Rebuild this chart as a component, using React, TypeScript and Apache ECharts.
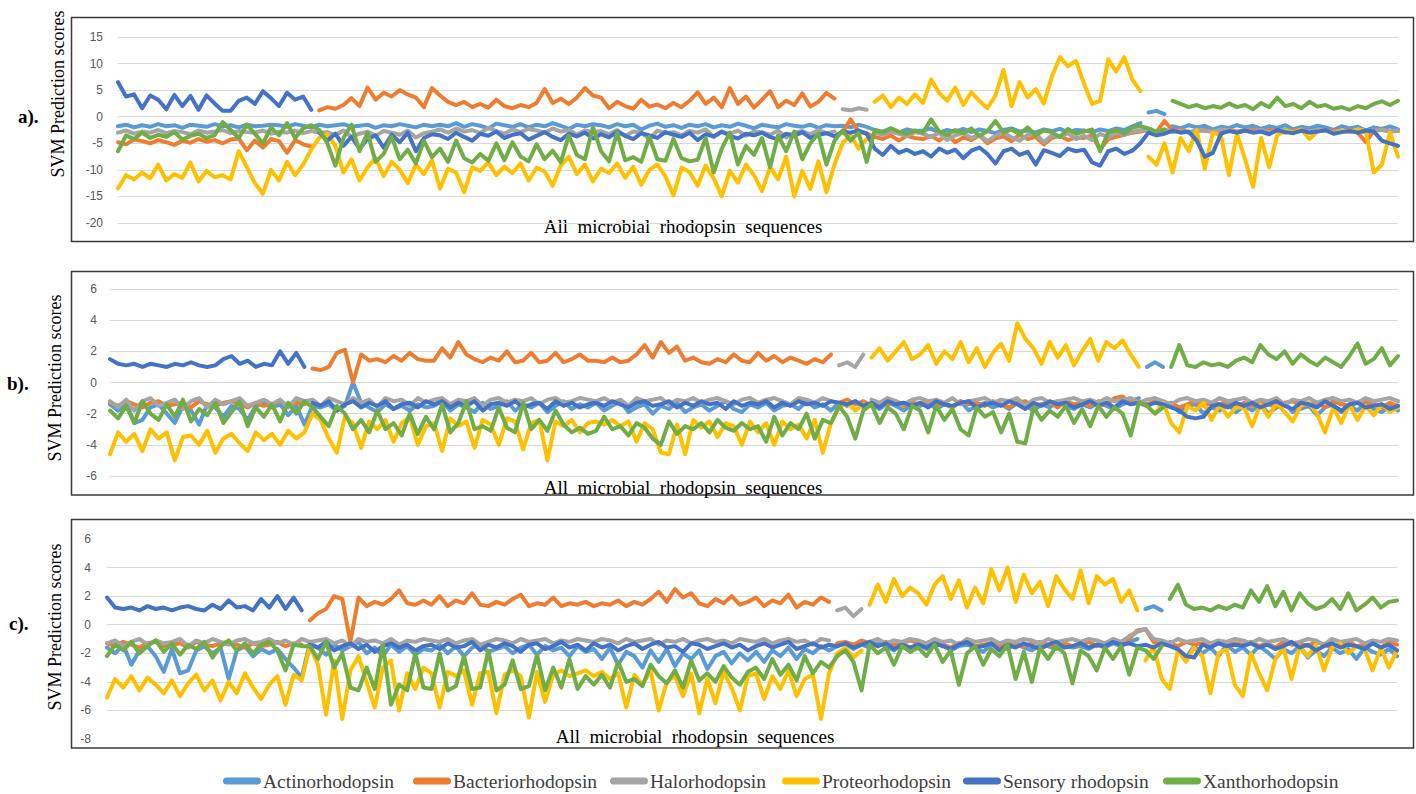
import React, { useEffect, useRef } from "react";
import * as echarts from "echarts";

const NAMES = ["Actinorhodopsin", "Bacteriorhodopsin", "Halorhodopsin", "Proteorhodopsin", "Sensory rhodopsin", "Xanthorhodopsin"];
const COLORS = ["#5B9BD5", "#ED7D31", "#A5A5A5", "#FFC000", "#4472C4", "#70AD47"];
// index range (inclusive) of the sequences that belong to each class (positive set)
const POS_SEGMENTS: [number, number][] = [[128, 130], [25, 89], [90, 93], [94, 127], [0, 24], [131, 159]];
const SEQ_COUNT = 160;
const SEQ = Array.from({ length: SEQ_COUNT }, (_, i) => String(i + 1));

const PANEL_LABELS = ["a).", "b).", "c)."];
const Y_TITLE = "SVM Prediction scores";
const X_TITLE = "All  microbial  rhodopsin  sequences";

// ---------- panel a ----------
const A_ACT = [
  -1.8, -1.5, -2.0, -1.6, -1.9, -1.4, -1.8, -1.6, -2.1, -1.5, -1.7, -1.9, -1.4, -1.8, -1.6, -2.0, -1.5, -1.8, -1.7, -1.5,
  -1.6, -1.9, -1.4, -1.7, -2.0, -1.5, -1.8, -1.6, -1.4, -1.9, -1.7, -1.5, -2.1, -1.6, -1.8, -1.4, -1.7, -2.0, -1.5, -1.8,
  -1.5, -1.8, -1.2, -1.9, -1.4, -1.7, -2.2, -1.3, -1.6, -1.9, -1.4, -2.0, -1.5, -1.8, -1.2, -1.7, -2.3, -1.5, -1.8, -1.4,
  -1.6, -2.0, -1.4, -1.8, -1.5, -2.4, -1.7, -1.3, -1.9, -1.6, -2.1, -1.5, -1.8, -1.4, -2.0, -1.6, -1.9, -1.3, -1.7, -2.2,
  -1.5, -1.8, -2.0, -1.4, -1.7, -1.9, -1.5, -2.1, -1.6, -1.8, -1.7, -2.0, -1.5, -1.9, -2.5, -2.8, -2.2, -3.0, -2.4, -2.7,
  -2.6, -2.2, -3.0, -2.5, -2.8, -2.3, -2.9, -2.4, -2.7, -3.1, -2.5, -2.2, -2.8, -2.6, -3.0, -2.4, -2.7, -2.3, -2.9, -2.5,
  -2.6, -2.9, -2.4, -2.7, -2.2, -2.5, -1.8, -1.2, 0.8, 1.1, 0.5, -1.8, -2.2, -1.6, -2.0, -1.7, -2.4, -1.9, -2.1, -1.6,
  -2.0, -1.7, -2.3, -1.8, -2.1, -1.6, -2.4, -1.9, -2.2, -1.7, -2.0, -2.5, -1.8, -2.2, -1.9, -2.6, -2.0, -2.3, -1.8, -2.4,
];
const A_BAC = [
  -4.8, -5.2, -4.3, -4.6, -5.0, -4.4, -4.8, -5.3, -4.5, -4.9, -4.2, -4.7, -4.4, -5.0, -4.3, -4.1, -6.3, -4.5, -5.8, -4.2,
  -4.6, -6.8, -4.4, -5.2, -5.6, 1.2, 1.8, 1.5, 2.2, 3.5, 2.0, 5.5, 3.2, 4.5, 3.8, 5.0, 4.2, 3.6, 1.8, 5.4,
  4.0, 2.8, 2.2, 2.8, 1.8, 2.4, 1.7, 3.2, 2.0, 1.6, 2.2, 1.8, 2.6, 5.2, 2.6, 3.4, 2.4, 3.6, 5.4, 4.0,
  3.6, 1.6, 2.8, 2.0, 1.5, 3.2, 1.9, 2.3, 1.6, 2.6, 1.8, 3.0, 4.6, 2.4, 3.6, 1.8, 5.4, 2.4, 3.8, 1.7,
  3.2, 4.8, 1.8, 3.0, 2.2, 4.4, 1.9, 2.8, 4.5, 3.4, -3.0, -0.5, -2.8, -3.2, -3.8, -4.2, -3.5, -4.5, -3.6, -4.0,
  -4.2, -3.6, -4.5, -3.3, -4.8, -3.9, -4.4, -3.5, -5.0, -4.1, -3.7, -4.6, -3.4, -4.2, -3.8, -5.2, -4.0, -3.6, -4.4, -3.9,
  -4.0, -3.5, -6.2, -4.2, -3.8, -3.4, -3.0, -2.8, -2.5, -2.8, -0.8, -2.6, -2.4, -3.0, -2.7, -2.5, -2.9, -2.6, -2.4, -2.8,
  -2.6, -2.4, -2.8, -2.5, -2.7, -3.0, -2.6, -2.4, -2.9, -2.5, -2.7, -2.6, -2.8, -2.5, -3.0, -4.8, -2.6, -2.4, -2.8, -2.7,
];
const A_HAL = [
  -3.0, -2.6, -3.2, -2.8, -3.0, -2.5, -3.1, -2.7, -2.9, -3.3, -2.6, -3.0, -2.8, -2.5, -3.1, -2.7, -2.9, -3.0, -2.6, -3.2,
  -2.8, -3.0, -2.6, -3.1, -2.7, -3.0, -2.9, -3.5, -2.6, -3.8, -3.2, -2.8, -3.6, -2.7, -3.0, -3.4, -2.6, -3.9, -3.1, -2.8,
  -2.4, -3.0, -2.2, -2.8, -2.5, -3.1, -2.1, -2.7, -3.2, -2.4, -2.9, -2.3, -2.6, -3.0, -2.2, -2.8, -2.5, -3.4, -2.6, -2.9,
  -2.7, -3.3, -2.5, -3.6, -2.8, -3.0, -4.2, -2.6, -3.1, -2.9, -3.5, -2.7, -3.0, -2.4, -3.8, -2.9, -3.2, -2.6, -3.6, -2.8,
  -2.9, -3.4, -2.6, -3.9, -3.0, -2.7, -3.3, -2.5, -3.1, -2.8, 1.4, 1.2, 1.6, 1.3, -3.0, -3.4, -2.8, -3.2, -3.6, -2.9,
  -3.2, -3.8, -3.0, -4.4, -3.5, -3.1, -4.0, -3.3, -4.6, -3.6, -3.0, -3.9, -4.5, -3.4, -3.2, -4.8, -3.5, -3.8, -3.1, -4.2,
  -3.6, -4.4, -3.2, -3.9, -3.0, -3.4, -2.8, -2.6, -2.5, -2.8, -2.4, -2.9, -2.6, -3.0, -2.5, -2.7, -2.8, -2.4, -2.6, -3.0,
  -2.6, -2.8, -2.5, -2.9, -2.7, -2.4, -3.0, -2.6, -2.8, -2.5, -2.7, -2.9, -2.6, -2.8, -2.4, -3.0, -2.7, -2.5, -2.8, -2.6,
];
const A_PRO = [
  -13.5, -11.0, -11.8, -10.5, -11.6, -9.0, -12.0, -10.8, -11.5, -8.6, -12.2, -10.2, -11.4, -11.0, -11.8, -6.5, -9.5, -12.5, -14.5, -10.0,
  -12.0, -8.5, -11.0, -9.0, -6.2, -4.0, -3.2, -5.5, -10.5, -8.0, -12.0, -9.5, -7.8, -11.2, -8.5, -10.0, -12.5, -9.0, -10.8, -8.2,
  -13.5, -9.8, -10.5, -14.2, -9.5, -10.2, -8.6, -11.0, -9.4, -10.6, -8.8, -12.0, -9.6, -10.3, -13.0, -9.2, -7.5, -10.8, -9.0, -12.2,
  -9.8, -10.6, -8.8, -11.5, -9.4, -12.8, -10.0, -9.0, -11.2, -14.8, -9.6, -10.4, -13.0, -9.2, -11.6, -15.0, -10.2, -12.4, -9.0, -11.0,
  -14.0, -9.5, -11.8, -7.5, -15.0, -10.2, -13.6, -8.4, -14.2, -9.0, -5.0, -3.5, -6.0, -4.2, 2.8, 4.0, 1.8, 3.6, 2.4, 4.2,
  2.6, 7.0, 4.5, 3.0, 5.5, 2.2, 4.6, 3.0, 1.6, 4.0, 8.8, 2.0, 6.5, 3.6, 5.2, 2.5, 7.5, 11.2, 9.5, 10.5,
  6.2, 2.4, 3.0, 10.8, 8.5, 11.2, 7.0, 4.8, -7.5, -9.0, -5.0, -10.5, -4.0, -6.5, -2.5, -9.8, -3.0, -3.5, -11.0, -3.2,
  -8.0, -13.2, -4.0, -9.5, -3.5, -2.6, -3.0, -2.4, -4.2, -2.8, -2.5, -3.2, -2.6, -2.9, -2.4, -2.7, -10.5, -9.0, -3.0, -7.5,
];
const A_SEN = [
  6.5, 3.8, 4.2, 1.6, 4.0, 3.2, 1.4, 4.1, 2.0, 3.9, 1.3, 4.0, 2.5, 1.1, 1.1, 3.0, 3.6, 2.4, 4.8, 3.5,
  2.0, 4.5, 3.2, 3.8, 1.3, -3.0, -4.5, -3.2, -5.5, -3.8, -6.0, -4.2, -3.5, -5.8, -3.4, -4.8, -3.0, -6.5, -4.0, -3.3,
  -3.5, -4.2, -3.0, -3.8, -4.5, -3.2, -3.6, -2.8, -4.0, -3.4, -3.1, -4.3, -3.6, -2.9, -3.8, -4.4, -3.2, -3.7, -3.0, -4.1,
  -3.3, -3.9, -2.8, -3.6, -4.2, -3.1, -3.5, -4.0, -2.9, -3.4, -3.8, -3.0, -4.4, -3.3, -3.7, -2.8, -3.6, -4.1, -3.2, -3.5,
  -3.0, -3.8, -4.3, -3.2, -3.6, -2.9, -4.0, -3.4, -3.1, -3.7, -2.8, -3.0, -2.6, -3.2, -6.0, -7.2, -5.5, -6.8, -6.2, -7.0,
  -6.5, -7.5, -6.0, -6.8, -6.2, -7.8, -6.4, -5.8, -7.0, -8.8, -6.5, -6.0, -7.2, -6.6, -9.0, -6.3, -6.8, -7.4, -6.0, -6.5,
  -6.2, -8.6, -9.2, -6.5, -6.0, -7.0, -6.4, -5.0, -3.0, -3.5, -3.2, -2.6, -3.0, -2.8, -4.5, -7.5, -6.8, -3.2, -2.7, -3.0,
  -2.6, -3.0, -2.8, -3.3, -2.5, -2.9, -3.1, -2.6, -3.0, -2.8, -2.5, -3.2, -2.9, -2.7, -3.0, -2.6, -2.8, -4.5, -5.0, -5.5,
];
const A_XAN = [
  -6.5, -3.5, -4.2, -3.0, -4.0, -3.4, -3.8, -2.9, -4.3, -3.6, -3.2, -4.0, -3.5, -1.0, -2.5, -4.0, -1.5, -3.2, -5.0, -2.0,
  -3.5, -1.2, -4.0, -2.2, -1.6, -2.5, -5.0, -9.2, -4.0, -1.5, -6.5, -3.0, -8.5, -7.0, -3.8, -8.0, -6.2, -8.8, -4.5, -7.6,
  -6.0, -8.5, -4.5, -7.8, -8.6, -7.0, -8.3, -5.0, -8.2, -4.8, -7.5, -8.4, -5.2, -8.0, -6.4, -8.6, -3.5, -7.2, -8.0, -2.0,
  -6.5, -8.4, -3.0, -8.2, -7.6, -8.5, -3.8, -8.0, -8.3, -4.2, -7.8, -8.4, -8.1, -4.0, -10.5, -6.0, -3.0, -9.0, -5.5, -7.2,
  -4.0, -9.5, -3.5, -6.5, -2.8, -8.0, -5.0, -3.2, -9.0, -4.5, -2.6, -4.5, -3.0, -8.5, -2.5, -3.0, -2.2, -2.8, -3.2, -2.6,
  -3.0, -0.5, -2.8, -3.4, -2.5, -3.1, -2.2, -3.6, -2.7, -0.8, -3.0, -2.4, -3.3, -2.0, -3.5, -2.6, -2.9, -3.8, -2.3, -3.2,
  -2.8, -2.4, -6.5, -3.0, -2.5, -3.2, -2.0, -1.8, -2.2, -2.8, -2.4, 3.0, 2.4, 1.8, 2.2, 1.6, 2.0, 1.7, 2.5, 1.8,
  2.2, 1.4, 2.6, 1.8, 3.6, 2.0, 2.4, 1.6, 2.8, 1.9, 2.2, 1.5, 1.8, 1.3, 2.0, 1.6, 2.4, 2.9, 2.2, 3.0,
];

// ---------- panel b ----------
const B_ACT = [
  -1.4, -1.8, -1.3, -2.6, -2.4, -1.6, -1.4, -2.0, -2.6, -1.5, -1.8, -2.7, -1.4, -1.6, -2.2, -1.5, -1.7, -2.4, -1.5, -1.3,
  -1.6, -1.4, -2.1, -1.5, -2.7, -1.5, -1.6, -1.4, -1.8, -1.5, 0.0, -1.3, -1.6, -1.9, -1.4, -1.7, -1.5, -1.8, -1.4, -1.6,
  -1.5, -1.2, -1.8, -1.4, -1.6, -1.9, -1.3, -1.7, -1.5, -1.2, -1.8, -1.4, -1.6, -1.3, -1.9, -1.5, -1.2, -1.7, -1.4, -1.6,
  -1.3, -1.8, -1.5, -1.2, -1.9, -1.6, -1.4, -2.0, -1.5, -1.7, -1.3, -1.9, -1.6, -1.4, -1.8, -1.5, -1.2, -1.7, -1.9, -1.4,
  -1.6, -1.3, -1.8, -1.5, -1.4, -1.7, -1.2, -1.6, -1.4, -1.8, -1.3, -1.5, -1.2, -1.6, -1.4, -1.7, -1.3, -1.5, -1.8, -1.4,
  -1.5, -1.3, -1.7, -1.4, -1.6, -1.2, -1.8, -1.5, -1.3, -1.6, -1.4, -1.7, -1.3, -1.5, -1.8, -1.4, -1.6, -1.2, -1.5, -1.7,
  -1.4, -1.6, -1.3, -1.5, -1.7, -1.4, -1.2, -1.0, 1.0, 1.3, 1.0, -1.3, -1.9, -1.5, -1.4, -2.0, -1.6, -1.8, -1.4, -1.9,
  -1.5, -1.8, -1.4, -2.0, -1.6, -1.3, -1.9, -1.7, -1.5, -2.1, -1.6, -1.4, -1.9, -1.5, -1.8, -1.3, -1.7, -1.9, -1.5, -1.8,
];
const B_BAC = [
  -1.3, -1.5, -1.2, -1.4, -1.6, -1.3, -1.2, -1.5, -1.4, -1.3, -1.6, -1.2, -1.4, -1.5, -1.3, -1.2, -1.4, -1.6, -1.3, -1.5,
  -1.4, -1.2, -1.5, -1.3, -1.4, 0.9, 0.8, 1.0, 1.9, 2.1, 0.0, 1.8, 1.4, 1.5, 1.3, 1.7, 1.4, 1.9, 1.5, 1.4,
  1.4, 2.2, 1.6, 2.6, 1.8, 1.5, 1.3, 1.6, 1.4, 2.0, 1.3, 1.4, 1.9, 1.3, 1.4, 1.9, 1.3, 1.5, 1.8, 1.4,
  1.4, 1.3, 1.6, 1.3, 1.4, 1.8, 2.4, 1.6, 2.6, 1.9, 2.3, 1.4, 1.6, 1.3, 1.2, 1.5, 1.3, 1.8, 1.4, 1.3,
  1.9, 1.4, 1.7, 1.3, 1.6, 1.4, 1.2, 1.5, 1.3, 1.8, -1.3, -1.1, -1.4, -1.2, -1.5, -1.3, -1.4, -1.2, -1.5, -1.3,
  -1.4, -1.2, -1.5, -1.3, -1.6, -1.2, -1.4, -1.3, -1.5, -1.2, -1.4, -1.6, -1.3, -1.2, -1.5, -1.4, -1.3, -1.6, -1.2, -1.4,
  -1.3, -1.5, -1.2, -1.4, -1.0, -0.9, -1.3, -1.2, -1.4, -1.2, -1.5, -1.3, -1.6, -1.4, -1.2, -1.5, -1.3, -1.4, -1.2, -1.6,
  -1.3, -1.5, -1.2, -1.4, -1.6, -1.3, -1.2, -1.5, -1.4, -1.3, -1.6, -1.2, -1.4, -1.5, -1.3, -1.2, -1.4, -1.6, -1.3, -1.5,
];
const B_HAL = [
  -1.2, -1.6, -1.1, -1.8, -1.2, -1.0, -1.5, -1.3, -1.1, -1.7, -1.2, -1.0, -1.6, -1.1, -1.4, -1.2, -1.0, -1.5, -1.3, -1.1,
  -1.4, -1.1, -1.6, -1.0, -1.2, -1.1, -1.5, -1.0, -1.2, -1.4, -1.0, -1.3, -1.1, -1.6, -1.0, -1.2, -1.1, -1.5, -1.0, -1.3,
  -1.1, -1.0, -1.4, -1.1, -1.2, -1.0, -1.5, -1.1, -1.0, -1.3, -1.1, -1.2, -1.0, -1.4, -1.1, -1.0, -1.3, -1.2, -1.0, -1.1,
  -1.2, -1.0, -1.3, -1.1, -1.5, -1.0, -1.2, -1.1, -1.0, -1.4, -1.1, -1.2, -1.0, -1.3, -1.1, -1.0, -1.2, -1.4, -1.1, -1.0,
  -1.3, -1.1, -1.0, -1.2, -1.4, -1.0, -1.1, -1.3, -1.0, -1.2, 1.1, 1.3, 1.0, 1.8, -1.1, -1.3, -1.0, -1.2, -1.4, -1.1,
  -1.0, -1.2, -1.1, -1.3, -1.0, -1.4, -1.2, -1.1, -1.0, -1.3, -1.1, -1.2, -1.0, -1.5, -1.1, -1.0, -1.3, -1.2, -1.1, -1.0,
  -1.2, -1.1, -1.3, -1.0, -1.2, -1.1, -1.0, -1.3, -1.1, -1.0, -1.2, -1.4, -1.1, -1.0, -1.2, -1.1, -1.3, -1.0, -1.2, -1.1,
  -1.0, -1.3, -1.1, -1.2, -1.0, -1.4, -1.1, -1.2, -1.0, -1.3, -1.1, -1.0, -1.2, -1.1, -1.3, -1.0, -1.2, -1.1, -1.0, -1.2,
];
const B_PRO = [
  -4.6, -3.2, -3.8, -3.3, -4.4, -3.0, -3.6, -3.2, -5.0, -3.5, -3.4, -4.0, -3.1, -4.5, -3.6, -3.3, -3.9, -4.4, -3.2, -3.7,
  -3.3, -4.0, -3.1, -3.6, -3.2, -2.0, -2.4, -3.6, -4.5, -2.2, -2.6, -4.2, -2.5, -3.0, -2.4, -3.8, -2.6, -2.2, -4.0, -2.8,
  -2.6, -4.4, -2.3, -2.8, -2.5, -4.2, -2.4, -2.7, -4.0, -2.3, -2.5, -4.3, -2.6, -2.4, -5.0, -2.5, -2.8, -2.4, -3.2, -2.6,
  -2.5, -2.7, -2.4, -2.8, -2.5, -3.8, -2.6, -3.0, -4.5, -4.6, -2.7, -4.6, -2.4, -2.9, -2.5, -3.5, -2.6, -2.8, -4.0, -2.5,
  -3.2, -2.6, -4.0, -2.5, -3.0, -2.7, -3.6, -2.4, -4.5, -2.6, -1.6, -1.3, -1.8, -1.4, 1.6, 2.2, 1.4, 2.0, 2.6, 1.5,
  1.8, 2.4, 1.2, 2.0, 1.5, 2.6, 1.3, 2.2, 1.0, 1.9, 2.5, 1.4, 3.8, 2.8, 2.2, 1.2, 2.6, 1.6, 2.4, 1.1,
  2.0, 2.8, 1.4, 2.6, 2.2, 2.7, 1.8, 1.0, -1.5, -2.0, -1.3, -2.6, -3.2, -1.5, -1.8, -1.3, -2.4, -1.4, -2.2, -1.6,
  -1.6, -2.8, -1.4, -2.2, -1.3, -1.9, -2.5, -1.5, -1.3, -2.0, -3.2, -1.6, -2.6, -1.4, -2.4, -1.5, -2.1, -1.4, -1.9, -1.6,
];
const B_SEN = [
  1.5, 1.2, 1.1, 1.2, 1.0, 1.2, 1.1, 1.0, 1.2, 1.1, 1.3, 1.1, 1.0, 1.1, 1.5, 1.7, 1.2, 1.4, 1.0, 1.2,
  1.1, 2.0, 1.2, 1.9, 1.0, -1.3, -1.5, -1.2, -1.8, -1.4, -1.2, -1.6, -1.3, -1.5, -1.2, -1.7, -1.4, -1.3, -1.6, -1.2,
  -1.4, -1.2, -1.6, -1.3, -1.5, -1.2, -1.8, -1.4, -1.3, -1.5, -1.2, -1.6, -1.4, -1.3, -1.7, -1.2, -1.5, -1.3, -1.6, -1.4,
  -1.3, -1.5, -1.2, -1.4, -1.6, -1.3, -1.2, -1.5, -1.4, -1.2, -1.6, -1.3, -1.5, -1.2, -1.4, -1.3, -1.7, -1.2, -1.5, -1.3,
  -1.4, -1.2, -1.6, -1.3, -1.5, -1.2, -1.4, -1.3, -1.5, -1.2, -1.3, -1.4, -1.2, -1.5, -1.3, -1.6, -1.2, -1.4, -1.3, -1.5,
  -1.3, -1.6, -1.2, -1.4, -1.5, -1.3, -1.2, -1.6, -1.4, -1.3, -1.5, -1.2, -1.4, -1.7, -1.3, -1.5, -1.2, -1.4, -1.3, -1.6,
  -1.4, -1.2, -1.5, -1.3, -1.6, -1.2, -1.4, -1.3, -1.5, -1.3, -1.4, -1.6, -1.8, -2.2, -2.3, -2.2, -1.5, -1.4, -1.6, -1.3,
  -1.5, -1.3, -1.6, -1.4, -1.2, -1.5, -1.7, -1.3, -1.4, -1.6, -1.2, -1.5, -1.8, -1.4, -1.3, -1.6, -1.5, -1.4, -1.7, -1.5,
];
const B_XAN = [
  -1.8, -2.3, -1.5, -2.6, -1.2, -2.0, -2.4, -1.4, -2.2, -1.1, -2.5, -1.7, -2.1, -1.3, -2.6, -1.9, -1.2, -2.8, -1.6, -2.2,
  -1.4, -2.5, -1.3, -2.0, -1.2, -1.6, -2.2, -2.8, -1.5, -2.0, -3.0, -2.4, -3.2, -1.8, -3.0, -2.6, -3.4, -2.0, -3.3, -2.2,
  -3.0, -1.4, -3.2, -2.6, -1.2, -3.0, -2.8, -3.1, -1.6, -2.9, -3.2, -1.3, -3.0, -2.4, -3.1, -1.8, -2.7, -3.2, -2.9, -3.3,
  -3.1, -2.2, -3.0, -2.8, -3.4, -2.6, -2.9, -3.6, -4.0, -2.5, -3.3, -2.8, -3.0, -2.6, -3.2, -2.4, -2.9, -3.1, -2.6, -3.0,
  -2.8, -3.8, -2.2, -3.4, -2.6, -3.0, -2.0, -3.6, -2.4, -2.6, -1.5, -2.2, -3.6, -1.8, -1.4, -2.6, -1.6, -2.0, -3.0, -1.5,
  -1.8, -3.2, -1.5, -2.4, -1.7, -3.0, -3.4, -1.6, -2.2, -1.9, -3.2, -2.0, -3.8, -3.9, -1.6, -2.4, -1.8, -2.2, -1.5, -2.6,
  -1.7, -2.8, -1.5, -2.2, -1.6, -2.0, -3.4, -1.3, -1.5, -2.0, -1.6, 1.0, 2.4, 1.1, 1.0, 1.3, 1.1, 1.2, 1.0, 1.4,
  1.6, 1.3, 2.4, 1.8, 1.5, 2.0, 1.2, 1.8, 1.4, 1.1, 1.6, 1.3, 1.0, 1.7, 2.5, 1.2, 1.5, 2.2, 1.1, 1.7,
];

// ---------- panel c ----------
const C_ACT = [
  -1.6, -2.0, -1.4, -2.8, -1.8, -1.5, -2.2, -3.3, -1.7, -3.4, -3.2, -1.8, -1.5, -2.0, -1.6, -3.8, -1.8, -1.5, -2.2, -1.7,
  -2.0, -1.7, -2.4, -3.0, -3.7, -1.3, -1.6, -2.1, -1.4, -1.8, -1.5, -1.2, -2.0, -1.6, -2.2, -1.4, -1.9, -1.5, -2.1, -1.7,
  -1.8, -1.4, -2.0, -1.5, -2.2, -1.6, -1.4, -1.9, -1.7, -1.5, -2.0, -1.6, -1.4, -2.1, -1.5, -1.8, -1.6, -2.2, -1.5, -1.9,
  -1.7, -2.4, -1.6, -2.8, -1.9, -2.2, -3.0, -1.8, -2.6, -1.7, -2.9, -2.0, -2.4, -1.8, -3.1, -2.2, -1.9, -2.7, -2.0, -2.5,
  -1.9, -2.6, -1.8, -2.2, -1.6, -2.4, -1.7, -2.0, -1.5, -1.8, -1.5, -1.3, -1.7, -1.4, -1.6, -1.3, -1.5, -1.8, -1.4, -1.6,
  -1.4, -1.7, -1.5, -1.3, -1.8, -1.5, -1.4, -1.6, -1.9, -1.4, -1.5, -1.7, -1.3, -1.6, -1.8, -1.4, -1.5, -1.7, -1.4, -1.6,
  -1.5, -1.7, -1.4, -1.6, -1.3, -1.5, -1.2, -1.0, 1.1, 1.3, 1.0, -1.2, -1.8, -2.3, -1.5, -2.0, -1.6, -2.2, -1.4, -1.9,
  -1.6, -2.1, -1.5, -1.9, -2.4, -1.7, -2.0, -1.5, -2.3, -1.8, -2.2, -1.6, -2.0, -1.7, -2.4, -1.6, -1.9, -2.1, -1.7, -2.2,
];
const C_BAC = [
  -1.3, -1.5, -1.2, -1.4, -1.6, -1.3, -1.2, -1.5, -1.4, -1.3, -1.6, -1.2, -1.4, -1.5, -1.3, -1.2, -1.4, -1.6, -1.3, -1.5,
  -1.4, -1.2, -1.5, -1.3, -1.4, 0.3, 0.8, 1.1, 2.0, 1.8, -1.2, 1.9, 1.3, 1.6, 1.4, 1.8, 2.4, 1.5, 1.4, 1.7,
  1.4, 2.0, 1.3, 1.7, 1.5, 2.2, 1.4, 1.3, 1.6, 1.4, 1.8, 2.1, 1.3, 1.5, 1.4, 1.9, 1.3, 1.5, 1.4, 1.6,
  1.3, 1.5, 1.4, 1.7, 1.3, 1.6, 1.4, 1.8, 2.3, 1.6, 2.5, 1.9, 2.2, 1.5, 1.3, 1.8, 1.5, 2.0, 1.4, 1.6,
  1.9, 1.3, 1.7, 1.5, 2.1, 1.2, 1.6, 1.4, 1.9, 1.6, -1.3, -1.2, -1.4, -1.1, -1.3, -1.5, -1.2, -1.4, -1.3, -1.1,
  -1.3, -1.5, -1.2, -1.4, -1.6, -1.3, -1.2, -1.5, -1.4, -1.3, -1.6, -1.2, -1.4, -1.5, -1.3, -1.2, -1.4, -1.6, -1.3, -1.5,
  -1.4, -1.2, -1.5, -1.3, -1.1, -1.3, -1.0, -0.4, -0.3, -1.2, -1.4, -1.3, -1.5, -1.2, -1.4, -1.3, -1.6, -1.2, -1.4, -1.3,
  -1.4, -1.2, -1.5, -1.3, -1.6, -1.2, -1.4, -1.3, -1.5, -1.2, -1.4, -1.6, -1.3, -1.2, -1.5, -1.4, -1.3, -1.6, -1.2, -1.4,
];
const C_HAL = [
  -1.3, -1.1, -1.5, -1.2, -1.0, -1.4, -1.1, -1.3, -1.2, -1.0, -1.5, -1.1, -1.3, -1.0, -1.2, -1.4, -1.1, -1.0, -1.3, -1.2,
  -1.0, -1.3, -1.1, -1.4, -1.0, -1.2, -1.1, -1.0, -1.3, -1.1, -1.5, -1.0, -1.2, -1.1, -1.3, -1.0, -1.4, -1.1, -1.2, -1.0,
  -1.1, -1.2, -1.0, -1.3, -1.1, -1.0, -1.4, -1.2, -1.0, -1.1, -1.3, -1.0, -1.2, -1.1, -1.0, -1.3, -1.1, -1.2, -1.0, -1.1,
  -1.2, -1.0, -1.1, -1.3, -1.0, -1.2, -1.1, -1.0, -1.4, -1.1, -1.2, -1.0, -1.3, -1.1, -1.0, -1.2, -1.1, -1.3, -1.0, -1.1,
  -1.2, -1.0, -1.3, -1.1, -1.0, -1.2, -1.1, -1.4, -1.0, -1.1, 1.0, 1.2, 0.6, 1.1, -1.2, -1.0, -1.3, -1.1, -1.2, -1.0,
  -1.1, -1.3, -1.0, -1.2, -1.1, -1.4, -1.0, -1.2, -1.1, -1.0, -1.3, -1.1, -1.2, -1.0, -1.1, -1.3, -1.0, -1.2, -1.1, -1.0,
  -1.2, -1.0, -1.1, -1.3, -1.0, -1.2, -0.8, -0.5, -0.3, -1.0, -1.1, -1.3, -1.0, -1.2, -1.1, -1.0, -1.3, -1.1, -1.2, -1.0,
  -1.1, -1.3, -1.0, -1.2, -1.1, -1.0, -1.3, -1.2, -1.0, -1.1, -1.4, -1.0, -1.2, -1.1, -1.0, -1.3, -1.1, -1.2, -1.0, -1.1,
];
const C_PRO = [
  -5.1, -3.8, -4.4, -3.6, -4.6, -3.7, -4.2, -4.8, -3.9, -5.0, -4.1, -3.5, -4.6, -3.9, -5.3, -4.0, -4.8, -3.4, -4.4, -5.2,
  -4.2, -3.6, -5.6, -3.5, -3.9, -1.5, -2.8, -6.3, -2.5, -6.6, -3.2, -2.2, -4.0, -5.8, -3.0, -2.5, -6.0, -3.4, -4.5, -3.0,
  -3.4, -5.8, -3.3, -3.6, -3.2, -5.6, -3.4, -3.3, -6.2, -3.5, -3.2, -3.6, -6.5, -3.3, -5.4, -3.5, -3.2, -3.6, -3.4, -3.2,
  -3.6, -3.3, -3.8, -3.4, -5.8, -3.5, -4.2, -3.2, -6.0, -4.0, -3.6, -5.0, -3.4, -6.2, -3.8, -5.5, -3.3, -4.4, -6.0, -3.6,
  -3.4, -5.2, -3.6, -4.5, -3.2, -5.0, -3.8, -3.5, -6.6, -3.4, -2.0, -1.6, -2.3, -1.8, 1.4, 2.8, 1.6, 3.2, 2.0, 2.6,
  2.2, 1.4, 2.8, 3.4, 1.8, 3.1, 1.2, 2.6, 1.5, 3.9, 2.4, 4.0, 1.6, 3.5, 2.2, 3.0, 1.3, 3.4, 2.5, 1.8,
  3.8, 1.5, 3.4, 2.8, 3.2, 1.6, 2.4, 1.0, -2.5, -1.5, -3.8, -4.5, -1.8, -2.6, -1.6, -2.2, -4.8, -2.0, -1.7, -4.2,
  -5.0, -2.0, -3.4, -4.6, -2.4, -1.6, -3.8, -1.5, -2.2, -1.4, -3.2, -1.6, -1.3, -2.0, -1.5, -1.7, -3.2, -1.6, -3.0, -1.8,
];
const C_SEN = [
  1.9, 1.2, 1.1, 1.2, 1.0, 1.3, 1.1, 1.2, 1.0, 1.2, 1.3, 1.1, 1.0, 1.4, 1.1, 1.7, 1.2, 1.3, 1.0, 1.8,
  1.2, 2.0, 1.1, 1.9, 1.0, -1.4, -1.6, -1.2, -1.8, -1.5, -1.3, -1.7, -1.4, -1.9, -1.5, -1.3, -1.6, -1.4, -1.8, -1.5,
  -1.4, -1.7, -1.3, -1.6, -1.5, -1.2, -1.8, -1.4, -1.6, -1.3, -1.5, -1.9, -1.4, -1.3, -1.7, -1.5, -1.2, -1.6, -1.4, -1.8,
  -1.3, -1.6, -1.4, -1.8, -1.5, -1.3, -1.7, -1.4, -1.2, -1.6, -1.5, -1.9, -1.3, -1.4, -1.7, -1.5, -1.3, -1.6, -1.4, -1.8,
  -1.5, -1.3, -1.6, -1.4, -1.2, -1.7, -1.5, -1.3, -1.6, -1.4, -1.5, -1.3, -1.6, -1.4, -1.2, -1.5, -1.3, -1.7, -1.4, -1.6,
  -1.4, -1.6, -1.3, -1.5, -1.7, -1.4, -1.2, -1.6, -1.5, -1.3, -1.8, -1.4, -1.6, -1.3, -1.5, -1.7, -1.4, -1.2, -1.6, -1.5,
  -1.3, -1.6, -1.4, -1.5, -1.2, -1.4, -1.3, -1.5, -1.4, -1.6, -1.3, -1.5, -1.7, -2.2, -2.3, -1.4, -1.6, -1.3, -1.5, -1.4,
  -1.5, -1.3, -1.6, -1.4, -1.7, -1.5, -1.2, -1.6, -1.4, -1.8, -1.5, -1.3, -1.6, -1.4, -1.5, -1.7, -1.3, -1.6, -1.4, -1.8,
];
const C_XAN = [
  -2.2, -1.4, -1.8, -1.2, -2.0, -1.5, -1.1, -1.9, -1.3, -2.1, -1.4, -1.7, -1.2, -2.3, -1.5, -1.1, -1.8, -1.3, -2.0, -1.4,
  -1.2, -1.8, -3.2, -1.4, -1.5, -1.5, -2.4, -1.2, -3.0, -2.0, -4.4, -4.6, -3.0, -4.5, -1.4, -5.6, -4.2, -4.6, -2.0, -4.4,
  -4.5, -2.0, -4.6, -4.3, -2.2, -4.5, -4.4, -1.8, -4.6, -4.2, -2.5, -4.5, -4.3, -2.1, -4.6, -3.0, -4.4, -2.4, -4.5, -3.6,
  -4.2, -3.5, -4.4, -2.6, -4.0, -3.8, -4.3, -2.8, -3.6, -4.1, -3.2, -4.4, -2.5, -3.9, -3.4, -4.0, -2.9, -3.7, -4.2, -3.3,
  -3.0, -3.8, -2.4, -3.5, -2.8, -3.9, -2.2, -3.4, -2.6, -3.0, -2.2, -1.8, -2.6, -4.6, -1.4, -2.0, -1.6, -2.8, -1.5, -1.9,
  -1.6, -2.2, -1.4, -2.6, -1.8, -4.2, -2.0, -1.5, -2.8, -1.7, -2.2, -1.4, -3.8, -1.9, -4.0, -1.6, -2.4, -1.5, -2.0, -4.1,
  -1.8, -2.2, -3.2, -1.6, -2.4, -1.5, -3.5, -1.6, -1.8, -2.4, -1.5, 1.8, 2.8, 1.4, 1.1, 1.2, 1.0, 1.3, 1.1, 1.4,
  1.2, 2.4, 1.6, 2.7, 1.3, 2.3, 1.0, 2.2, 1.5, 1.1, 1.3, 1.8, 1.1, 2.2, 1.0, 1.4, 1.9, 1.2, 1.6, 1.7,
];

// y-axis scales per panel
const Y_MIN = [-20, -6, -8];
const Y_MAX = [15, 6, 6];
const Y_STEP = [5, 2, 2];

// layout (pixels)
const PANELS = [
  { data: [A_ACT, A_BAC, A_HAL, A_PRO, A_SEN, A_XAN], grid: { left: 118, top: 37, width: 1280, height: 186 }, labelMargin: 15, edgeLines: true,
    box: [71.5, 17.5, 1342, 224], tag: [18, 116], yTitle: [58, 94], xTitle: [683, 226] },
  { data: [B_ACT, B_BAC, B_HAL, B_PRO, B_SEN, B_XAN], grid: { left: 110, top: 289, width: 1288, height: 187 }, labelMargin: 13, edgeLines: true,
    box: [71.5, 271.5, 1342, 223.5], tag: [7, 383], yTitle: [55, 378], xTitle: [683, 487] },
  { data: [C_ACT, C_BAC, C_HAL, C_PRO, C_SEN, C_XAN], grid: { left: 107, top: 539, width: 1290, height: 200 }, labelMargin: 16, edgeLines: false,
    box: [71.5, 519.5, 1342, 228.5], tag: [9, 623], yTitle: [55, 627], xTitle: [695, 736] },
];
const LEGEND_LEFT = [222, 412, 609, 781, 962, 1162];
const LEGEND_TOP = 770;

const SERIF = '"Liberation Serif", "Times New Roman", serif';

export default function App() {
  const ref = useRef<HTMLDivElement>(null);
  useEffect(() => {
    if (!ref.current) return;
    const chart = echarts.init(ref.current, null, { renderer: "svg" });
    const grids: any[] = [];
    const xAxes: any[] = [];
    const yAxes: any[] = [];
    const series: any[] = [];
    const graphics: any[] = [];

    PANELS.forEach((p, pi) => {
      grids.push({ ...p.grid, containLabel: false });
      xAxes.push({ type: "category", gridIndex: pi, data: SEQ, boundaryGap: false, show: false });
      yAxes.push({
        type: "value", gridIndex: pi, min: Y_MIN[pi], max: Y_MAX[pi], interval: Y_STEP[pi],
        axisLine: { show: false }, axisTick: { show: false },
        axisLabel: { color: "#595959", fontSize: 12, fontFamily: '"Liberation Sans", Arial, sans-serif', margin: p.labelMargin },
        splitLine: { show: true, showMinLine: p.edgeLines, showMaxLine: p.edgeLines, lineStyle: { color: "#d9d9d9", width: 1 } },
      });
      p.data.forEach((vals, si) => {
        const [a, b] = POS_SEGMENTS[si];
        const neg = vals.map((v, i) => (i >= a && i <= b ? null : v));
        const pos = vals.map((v, i) => (i >= a && i <= b ? v : null));
        [neg, pos].forEach((d) => {
          series.push({
            type: "line", name: NAMES[si], xAxisIndex: pi, yAxisIndex: pi, data: d,
            color: COLORS[si], symbol: "none", showSymbol: false, connectNulls: false, silent: true,
            emphasis: { disabled: true },
            lineStyle: { color: COLORS[si], width: 4, join: "round", cap: "round" },
          });
        });
      });
      const [bx, by, bw, bh] = p.box;
      graphics.push({ type: "rect", silent: true, shape: { x: bx, y: by, width: bw, height: bh }, style: { fill: "none", stroke: "#3b3b3b", lineWidth: 1.5 } });
      graphics.push({ type: "text", silent: true, x: p.tag[0], y: p.tag[1], style: { text: PANEL_LABELS[pi], font: `bold 19px ${SERIF}`, fill: "#000", textAlign: "left", textVerticalAlign: "middle" } });
      graphics.push({ type: "text", silent: true, x: p.yTitle[0], y: p.yTitle[1], rotation: Math.PI / 2, style: { text: Y_TITLE, font: `18px ${SERIF}`, fill: "#000", textAlign: "center", textVerticalAlign: "middle" } });
      graphics.push({ type: "text", silent: true, x: p.xTitle[0], y: p.xTitle[1], style: { text: X_TITLE, font: `19px ${SERIF}`, fill: "#000", textAlign: "center", textVerticalAlign: "middle" } });
    });

    // legend key swatches (rounded bars) drawn beside each legend entry
    LEGEND_LEFT.forEach((lx, i) => {
      graphics.push({ type: "rect", silent: true, shape: { x: lx + 1, y: LEGEND_TOP + 7.5, width: 38, height: 7, r: 3.5 }, style: { fill: COLORS[i] } });
    });

    const legends = NAMES.map((n, i) => ({
      data: [n], left: LEGEND_LEFT[i], top: LEGEND_TOP, orient: "horizontal", padding: 0,
      itemWidth: 36, itemHeight: 7, itemGap: 0,
      icon: "none",
      textStyle: { fontFamily: SERIF, fontSize: 19.5, color: "#404040", lineHeight: 22 },
      selectedMode: false,
    }));

    chart.setOption({
      animation: false,
      backgroundColor: "#fff",
      grid: grids,
      xAxis: xAxes,
      yAxis: yAxes,
      legend: legends,
      series,
      graphic: graphics,
    });
    return () => chart.dispose();
  }, []);
  return <div ref={ref} style={{ position: "absolute", left: 0, top: 0, width: 1416, height: 794, background: "#fff" }} />;
}
